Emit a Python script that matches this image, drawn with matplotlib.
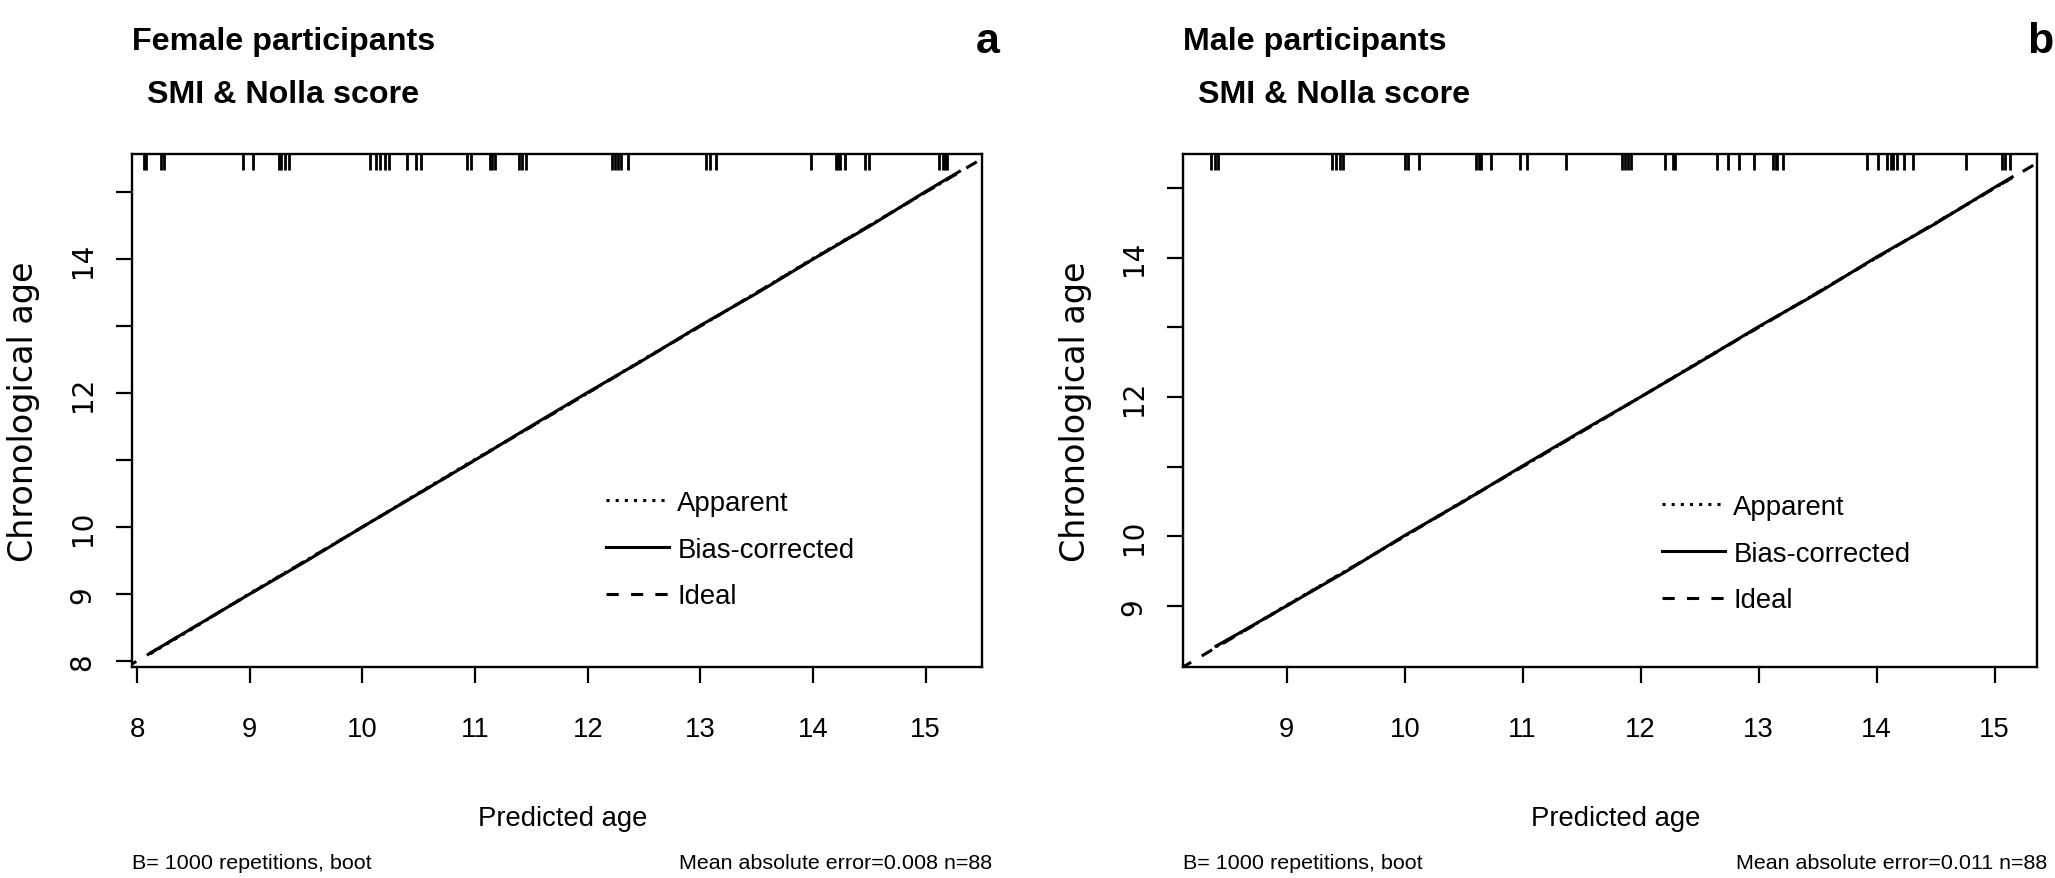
import matplotlib
matplotlib.use("Agg")
import matplotlib.pyplot as plt
import matplotlib.font_manager as fm
from matplotlib.lines import Line2D

# ---------------- data ----------------
# Panel a: female participants
rug_a = [8.06, 8.08, 8.21, 8.24, 8.94, 9.03, 9.26, 9.28, 9.31, 9.35,
         10.07, 10.12, 10.16, 10.20, 10.24, 10.40, 10.48, 10.52, 10.93, 10.96,
         11.13, 11.15, 11.18, 11.39, 11.42, 11.45, 12.22, 12.24, 12.27, 12.30,
         12.36, 13.05, 13.09, 13.14, 13.98, 14.20, 14.22, 14.24, 14.28, 14.46,
         14.50, 15.12, 15.15, 15.17, 15.19]
pred_a = [8.12, 8.5, 9.0, 9.5, 10.0, 10.5, 11.0, 11.5, 12.0, 12.5, 13.0, 13.5, 14.0, 14.5, 15.0, 15.3]
apparent_a = [8.11, 8.49, 9.01, 9.50, 10.00, 10.51, 11.01, 11.50, 12.00, 12.51, 13.00, 13.50, 14.01, 14.50, 15.00, 15.30]
biascorr_a = [8.12, 8.50, 9.00, 9.49, 10.00, 10.50, 11.00, 11.51, 12.01, 12.50, 13.01, 13.49, 14.00, 14.49, 15.01, 15.31]
ideal_a = [7.90, 15.60]

# Panel b: male participants
rug_b = [8.36, 8.39, 8.42, 9.38, 9.42, 9.45, 9.48, 10.00, 10.03, 10.12,
         10.60, 10.63, 10.65, 10.73, 10.98, 11.04, 11.37, 11.84, 11.87, 11.89,
         11.92, 12.21, 12.27, 12.29, 12.65, 12.74, 12.83, 12.96, 13.12, 13.15,
         13.16, 13.21, 13.92, 14.01, 14.09, 14.12, 14.14, 14.17, 14.23, 14.31,
         14.76, 15.06, 15.09, 15.13]
pred_b = [8.40, 8.6, 9.0, 9.5, 10.0, 10.5, 11.0, 11.5, 12.0, 12.5, 13.0, 13.5, 14.0, 14.5, 15.0, 15.15]
apparent_b = [8.41, 8.60, 9.01, 9.50, 10.00, 10.51, 11.00, 11.50, 12.00, 12.51, 13.00, 13.50, 14.00, 14.50, 15.00, 15.15]
biascorr_b = [8.42, 8.61, 9.00, 9.49, 10.01, 10.50, 11.01, 11.51, 12.00, 12.50, 13.01, 13.49, 14.01, 14.49, 15.01, 15.16]
ideal_b = [8.10, 15.50]

xticks_a = [8, 9, 10, 11, 12, 13, 14, 15]
yticks_a = [8, 9, 10, 11, 12, 13, 14, 15]
ylabels_a = ["8", "9", "10", "", "12", "", "14", ""]
xticks_b = [9, 10, 11, 12, 13, 14, 15]
yticks_b = [9, 10, 11, 12, 13, 14, 15]
ylabels_b = ["9", "10", "", "12", "", "14", ""]

titles = ["Female participants", "Male participants"]
subtitle = " SMI & Nolla score"
letters = ["a", "b"]
mae_texts = ["Mean absolute error=0.008 n=88", "Mean absolute error=0.011 n=88"]
boot_text = "B= 1000 repetitions, boot"
legend_labels = ["Apparent", "Bias-corrected", "Ideal"]

# ---------------- fonts ----------------
names = {f.name for f in fm.fontManager.ttflist}
if "Liberation Sans Narrow" in names:
    NARROW = ["Liberation Sans Narrow", "DejaVu Sans"]
    k = 1.0
else:
    NARROW = ["Liberation Sans", "DejaVu Sans"]
    k = 0.86
WIDE = ["DejaVu Sans"]

W, H = 2055, 879
fig = plt.figure(figsize=(W / 100, H / 100), dpi=100)

def fx(px):
    return px / W

def fy(py):
    return 1 - py / H

panels = [
    dict(left=132, right=982, xlim=(7.955, 15.50), ylim=(7.91, 15.57),
         rug=rug_a, pred=pred_a, app=apparent_a, bc=biascorr_a, ideal=ideal_a,
         xt=xticks_a, yt=yticks_a, yl=ylabels_a, leg=(606, 491)),
    dict(left=1183, right=2037, xlim=(8.12, 15.36), ylim=(8.12, 15.49),
         rug=rug_b, pred=pred_b, app=apparent_b, bc=biascorr_b, ideal=ideal_b,
         xt=xticks_b, yt=yticks_b, yl=ylabels_b, leg=(1662, 495)),
]
top_px, bot_px = 155, 668
LW = 2.2

for i, p in enumerate(panels):
    ax = fig.add_axes([fx(p["left"]), fy(bot_px), fx(p["right"] - p["left"]),
                       (bot_px - top_px) / H])
    ax.set_xlim(*p["xlim"])
    ax.set_ylim(*p["ylim"])
    for s in ax.spines.values():
        s.set_linewidth(1.7)
        s.set_color("black")

    ax.plot(p["ideal"], p["ideal"], color="black", lw=LW, linestyle=(0, (4, 4)), zorder=2)
    ax.plot(p["pred"], p["app"], color="black", lw=LW, linestyle=(0, (1, 2)), zorder=3)
    ax.plot(p["pred"], p["bc"], color="black", lw=LW, linestyle="-", zorder=4)

    ax.vlines(p["rug"], 0.969, 1.0, transform=ax.get_xaxis_transform(),
              color="black", lw=2.0, zorder=5)

    ax.set_xticks(p["xt"])
    ax.set_xticklabels([str(t) for t in p["xt"]], family=NARROW, fontsize=23 * k)
    ax.set_yticks(p["yt"])
    ax.set_yticklabels(p["yl"], family=WIDE, fontsize=20, rotation=90, va="center")
    ax.tick_params(axis="x", length=11.5, width=1.6, pad=24, direction="out")
    ax.tick_params(axis="y", length=11.5, width=1.6, pad=14, direction="out")

    handles = [Line2D([], [], color="black", lw=LW, linestyle=(0, (1, 2))),
               Line2D([], [], color="black", lw=LW, linestyle="-"),
               Line2D([], [], color="black", lw=LW, linestyle=(0, (4, 4)))]
    lx, ly = p["leg"]
    w = p["right"] - p["left"]
    ax.legend(handles, legend_labels, loc="upper left",
              bbox_to_anchor=((lx - p["left"]) / w, (bot_px - ly) / (bot_px - top_px)),
              frameon=False, prop=dict(family=NARROW, size=23 * k),
              handlelength=2.3, handletextpad=0.3, labelspacing=0.75,
              borderpad=0, borderaxespad=0)

    cx = (p["left"] + p["right"]) / 2
    fig.text(fx(p["left"]), fy(42), titles[i], family=NARROW, fontsize=27 * k,
             fontweight="bold", ha="left", va="center")
    fig.text(fx(p["left"] + 6), fy(95), subtitle, family=NARROW, fontsize=27 * k,
             fontweight="bold", ha="left", va="center")
    fig.text(fx(p["right"] + 18 if i == 0 else W - 2), fy(42), letters[i], family=NARROW,
             fontsize=36 * k, fontweight="bold", ha="right", va="center")
    fig.text(fx(p["left"] - 108), fy((top_px + bot_px) / 2), "Chronological age",
             family=WIDE, fontsize=24, rotation=90, ha="center", va="center")
    fig.text(fx(cx + 6), fy(819), "Predicted age", family=NARROW, fontsize=23 * k,
             ha="center", va="center")
    fig.text(fx(p["left"]), fy(864), boot_text, family=NARROW, fontsize=18 * k,
             ha="left", va="center")
    fig.text(fx(p["right"] + 10), fy(864), mae_texts[i], family=NARROW, fontsize=18 * k,
             ha="right", va="center")

fig.savefig("out.png", dpi=100, facecolor="white")
